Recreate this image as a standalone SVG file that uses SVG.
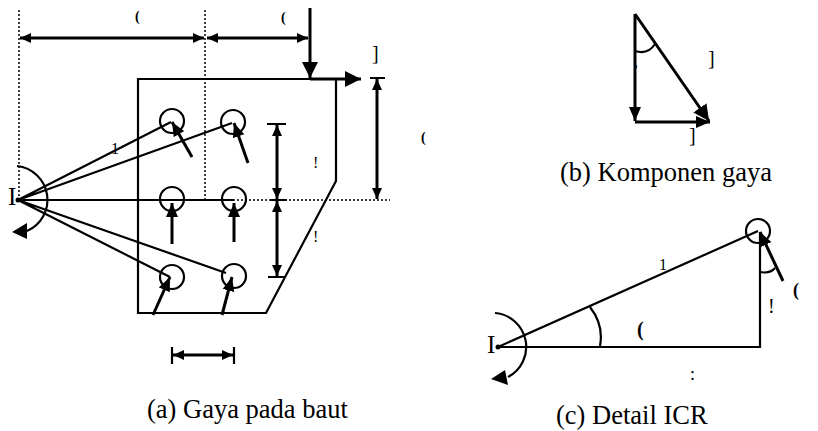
<svg xmlns="http://www.w3.org/2000/svg" width="818" height="431" viewBox="0 0 818 431">
<style>
.l{fill:none;stroke:#000;stroke-width:2.2}
.t{stroke-width:3}
.d{fill:none;stroke:#000;stroke-width:1.5;stroke-dasharray:2 2}
.h{fill:#000;stroke:none}
text{font-family:"Liberation Serif","Times New Roman",serif;fill:#000}
.c{font-size:26.5px}
.s{font-size:16px}
.k{font-size:14px;font-weight:bold}
</style>
<defs>
<marker id="m" markerUnits="userSpaceOnUse" markerWidth="15" markerHeight="13" refX="14" refY="6.5" orient="auto-start-reverse"><path class="h" d="M0 0.5L14 6.5L0 12.5Z"/></marker>
<marker id="q" markerUnits="userSpaceOnUse" markerWidth="12" markerHeight="12" refX="11" refY="6" orient="auto-start-reverse"><path class="h" d="M0 1L11 6L0 11Z"/></marker>
<marker id="b" markerUnits="userSpaceOnUse" markerWidth="17" markerHeight="18" refX="16" refY="9" orient="auto"><path class="h" d="M0 1L16 9L0 17Z"/></marker>
</defs>
<g id="plate"><path class="l" d="M336 79V181L266 313H138V79H336"/></g>
<g id="bolts">
<circle class="l" cx="172" cy="121" r="12"/><circle class="l" cx="233" cy="122" r="12"/>
<circle class="l" cx="172" cy="199" r="12"/><circle class="l" cx="234" cy="199" r="12"/>
<circle class="l" cx="172" cy="277" r="12"/><circle class="l" cx="234" cy="276" r="12"/>
</g>
<g id="connectors">
<path class="d" d="M19 10V200M205 10V200M205 200H390"/>
<path class="l" d="M18 200L171 122M18 200L232 123M18 200H234M18 200L170 277M18 200L226 273"/>
<circle class="h" cx="18" cy="200" r="2.5"/>
<path class="l" d="M17 166A34 34 0 0 1 27 231"/>
<path class="h" d="M12 232L27 223L27 239Z"/>
<path class="l t" d="M20 38H204" marker-start="url(#q)" marker-end="url(#q)"/>
<path class="l t" d="M207 38H308" marker-start="url(#q)" marker-end="url(#q)"/>
<path class="l t" d="M310 8V78" marker-end="url(#b)"/>
<path class="l t" d="M310 79H361" marker-end="url(#b)"/>
<path class="l t" d="M192 157L172 122" marker-end="url(#m)"/>
<path class="l t" d="M248 163L234 123" marker-end="url(#m)"/>
<path class="l t" d="M172 244V203" marker-end="url(#m)"/>
<path class="l t" d="M234 242V203" marker-end="url(#m)"/>
<path class="l t" d="M153 315L170 277" marker-end="url(#m)"/>
<path class="l t" d="M222 315L232 277" marker-end="url(#m)"/>
<path class="l t" d="M277 125V199" marker-start="url(#q)" marker-end="url(#q)"/>
<path class="l t" d="M277 201V276" marker-start="url(#q)" marker-end="url(#q)"/>
<path class="l t" d="M377 79V199" marker-start="url(#q)" marker-end="url(#q)"/>
<path class="l t" d="M173 355H233" marker-start="url(#q)" marker-end="url(#q)"/>
<path class="l" d="M267 124H286M270 200H287M268 277H285M370 78H385M172 347V364M234 347V364"/>
<path class="l t" d="M635 14V121" marker-end="url(#m)"/>
<path class="l t" d="M635 14L709 121" marker-end="url(#b)"/>
<path class="l t" d="M635 122H710" marker-end="url(#m)"/>
<path class="l" d="M635 51Q648 55 655 44"/>
<path class="l" d="M498 347L758 231M498 347H760V232"/>
<circle class="h" cx="498" cy="347" r="2.5"/>
<circle class="l" cx="758" cy="231" r="12"/>
<path class="l t" d="M783 281L760 232" marker-end="url(#m)"/>
<path class="l" d="M590 307Q604 325 600 346M760 272Q770 274 775 268"/>
<path class="l" d="M495 313A34 34 0 0 1 508 377"/>
<path class="h" d="M491 379L505 370L508 385Z"/>
</g>
<g id="labels">
<text x="135" y="21" class="k">(</text>
<text x="281" y="22" class="k">(</text>
<text x="372" y="60" style="font-size:20px">]</text>
<text x="421" y="142" class="k">(</text>
<text x="111" y="154" class="s">1</text>
<text x="313" y="168" class="s">!</text>
<text x="313" y="242" class="s">!</text>
<text x="8" y="205" style="font-size:25px">I</text>
<text x="708" y="65" style="font-size:20px">]</text>
<text x="689" y="142" style="font-size:20px">]</text>
<text x="634" y="67" class="k">,</text>
<text x="487" y="353" style="font-size:25px">I</text>
<text x="659" y="270" class="s">1</text>
<text x="637" y="336" class="k" style="font-size:20px">(</text>
<text x="768" y="313" style="font-size:20px">!</text>
<text x="793" y="296" class="k" style="font-size:18px">(</text>
<text x="690" y="380" style="font-size:18px">:</text>
<text x="147" y="418" class="c">(a) Gaya pada baut</text>
<text x="560" y="181" class="c">(b) Komponen gaya</text>
<text x="556" y="424" class="c">(c) Detail ICR</text>
</g>
</svg>
